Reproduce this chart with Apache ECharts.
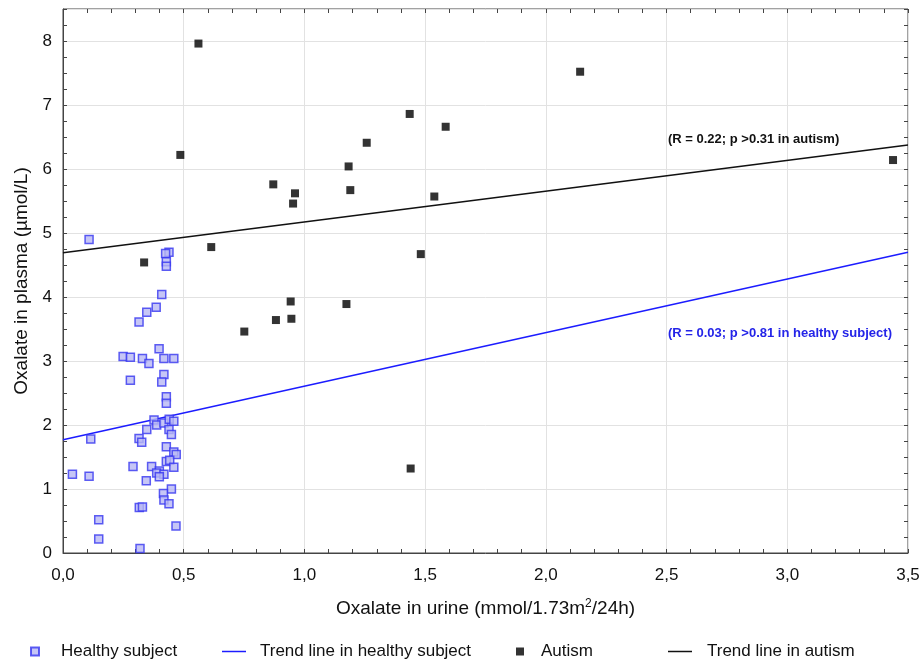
<!DOCTYPE html>
<html>
<head>
<meta charset="utf-8">
<title>Oxalate in plasma vs urine</title>
<script src="https://cdn.jsdelivr.net/npm/echarts@6/dist/echarts.min.js"></script>
<style>
    html, body { margin: 0; padding: 0; background: #fff; }
    #chart { width: 923px; height: 661px; }
</style>
</head>
<body>
<div id="chart"></div>
<script>
// data: [urine, plasma]
const healthyPoints = [
    [0.108, 4.90], [0.439, 4.70], [0.425, 4.68], [0.428, 4.55], [0.428, 4.48],
    [0.409, 4.04], [0.386, 3.84], [0.347, 3.76], [0.315, 3.61],
    [0.398, 3.19], [0.249, 3.07], [0.279, 3.06], [0.329, 3.04], [0.356, 2.96],
    [0.418, 3.04], [0.459, 3.04], [0.279, 2.70], [0.418, 2.79], [0.409, 2.67],
    [0.428, 2.44], [0.428, 2.34],
    [0.377, 2.08], [0.388, 2.00], [0.418, 2.03], [0.440, 2.09], [0.459, 2.06],
    [0.347, 1.93], [0.439, 1.93], [0.449, 1.85], [0.315, 1.79], [0.326, 1.73],
    [0.115, 1.78], [0.428, 1.66], [0.459, 1.58], [0.469, 1.54], [0.428, 1.43],
    [0.442, 1.45], [0.290, 1.35], [0.367, 1.35], [0.459, 1.34], [0.399, 1.28],
    [0.388, 1.25], [0.418, 1.23], [0.399, 1.19], [0.345, 1.13], [0.039, 1.23],
    [0.108, 1.20], [0.449, 1.00],
    [0.416, 0.93], [0.418, 0.83], [0.439, 0.77], [0.316, 0.71], [0.329, 0.72],
    [0.148, 0.52], [0.148, 0.22], [0.468, 0.42], [0.319, 0.07]
];

const autismPoints = [
    [0.561, 7.96], [2.142, 7.52], [1.436, 6.86], [1.585, 6.66], [1.258, 6.41],
    [0.486, 6.22], [1.183, 6.04], [3.438, 6.14], [0.871, 5.76], [0.961, 5.62],
    [1.190, 5.67], [0.953, 5.46], [1.538, 5.57], [0.614, 4.78], [1.482, 4.67],
    [0.336, 4.54], [0.943, 3.93], [1.174, 3.89], [0.882, 3.64], [0.946, 3.66],
    [0.751, 3.46], [1.440, 1.32]
];

// trend line end points
const healthyTrend = [[0, 1.77], [3.5, 4.70]];
const autismTrend = [[0, 4.69], [3.5, 6.375]];

const xTicks = [0, 0.5, 1, 1.5, 2, 2.5, 3, 3.5];
const yTicks = [0, 1, 2, 3, 4, 5, 6, 7, 8];

const legendNames = ['Healthy subject', 'Trend line in healthy subject', 'Autism', 'Trend line in autism'];
const notes = ['(R = 0.22; p >0.31 in autism)', '(R = 0.03; p >0.81 in healthy subject)'];

const chart = echarts.init(document.getElementById('chart'));

const FONT = 'Liberation Sans, Arial, sans-serif';
const frameColor = '#444';
const healthyBlue = '#1c1cff';

// tick-only axis for the inner ticks on each side of the frame
function tickAxis(pos, step, max) {
    return {
        type: 'value', position: pos, min: 0, max: max, interval: step,
        axisLine: { show: false, onZero: false },
        axisTick: { show: true, inside: true, length: 4, lineStyle: { color: frameColor } },
        axisLabel: { show: false },
        splitLine: { show: false }
    };
}

// one legend block per item, placed like the original
function legendItem(name, left, isLine, textPad) {
    return {
        data: [{ name: name, icon: 'rect' }],
        left: left, top: 643, padding: 0,
        itemWidth: isLine ? 24 : 8,
        itemHeight: isLine ? 1.5 : 8,
        textStyle: { fontFamily: FONT, fontSize: 17, color: '#111', padding: [0, 0, 0, textPad] }
    };
}

const option = {
    backgroundColor: '#fff',
    animation: false,
    grid: {
        left: 63, right: 15, top: 9, bottom: 108,
        show: true, borderColor: frameColor, borderWidth: 1, backgroundColor: 'transparent'
    },
    xAxis: [
        {
            type: 'value', min: 0, max: 3.5, interval: 0.5,
            name: 'Oxalate in urine (mmol/1.73m{sup|2}/24h)',
            nameLocation: 'middle', nameGap: 45,
            nameTextStyle: {
                fontFamily: FONT, fontSize: 19, color: '#111',
                rich: { sup: { fontFamily: FONT, fontSize: 12, verticalAlign: 'top', padding: [0, 0, 9, 0] } }
            },
            axisLine: { show: true, onZero: false, lineStyle: { color: frameColor } },
            axisTick: { show: false },
            axisLabel: {
                fontFamily: FONT, fontSize: 17, color: '#111', margin: 14,
                formatter: v => xTicks.includes(v) ? v.toFixed(1).replace('.', ',') : ''
            },
            splitLine: { show: true, lineStyle: { color: '#e2e2e2' } }
        },
        tickAxis('bottom', 0.1, 3.5),
        tickAxis('top', 0.1, 3.5)
    ],
    yAxis: [
        {
            type: 'value', min: 0, max: 8.5, interval: 1,
            name: 'Oxalate in plasma (µmol/L)',
            nameLocation: 'middle', nameGap: 30,
            nameTextStyle: { fontFamily: FONT, fontSize: 19, color: '#111' },
            axisLine: { show: true, onZero: false, lineStyle: { color: frameColor } },
            axisTick: { show: false },
            axisLabel: {
                fontFamily: FONT, fontSize: 17, color: '#111', margin: 11,
                showMaxLabel: false,
                formatter: v => yTicks.includes(v) ? String(v) : ''
            },
            splitLine: { show: true, lineStyle: { color: '#e2e2e2' } }
        },
        tickAxis('left', 0.25, 8.5),
        tickAxis('right', 0.25, 8.5)
    ],
    legend: [
        legendItem(legendNames[0], 30, false, 17),
        legendItem(legendNames[1], 222, true, 9),
        legendItem(legendNames[2], 516, false, 12),
        legendItem(legendNames[3], 668, true, 10)
    ],
    series: [
        {
            name: legendNames[0], type: 'scatter', symbol: 'rect', symbolSize: 8,
            data: healthyPoints,
            itemStyle: { color: '#b8b8f4', borderColor: '#3636f0', borderWidth: 1.5 },
            z: 3
        },
        {
            name: legendNames[1], type: 'line', data: healthyTrend,
            symbol: 'none',
            itemStyle: { color: healthyBlue },
            lineStyle: { color: healthyBlue, width: 1.5 },
            z: 2
        },
        {
            name: legendNames[2], type: 'scatter', symbol: 'rect', symbolSize: 8,
            data: autismPoints,
            itemStyle: { color: '#000' },
            z: 4
        },
        {
            name: legendNames[3], type: 'line', data: autismTrend,
            symbol: 'none',
            itemStyle: { color: '#111' },
            lineStyle: { color: '#111', width: 1.5 },
            z: 2
        }
    ],
    graphic: [
        {
            type: 'text', left: 668, top: 133, z: 100,
            style: { text: notes[0], fontFamily: FONT, fontSize: 13, fontWeight: 'bold', fill: '#111' }
        },
        {
            type: 'text', left: 668, top: 327, z: 100,
            style: { text: notes[1], fontFamily: FONT, fontSize: 13, fontWeight: 'bold', fill: '#2424e8' }
        }
    ]
};

chart.setOption(option);
</script>
</body>
</html>
